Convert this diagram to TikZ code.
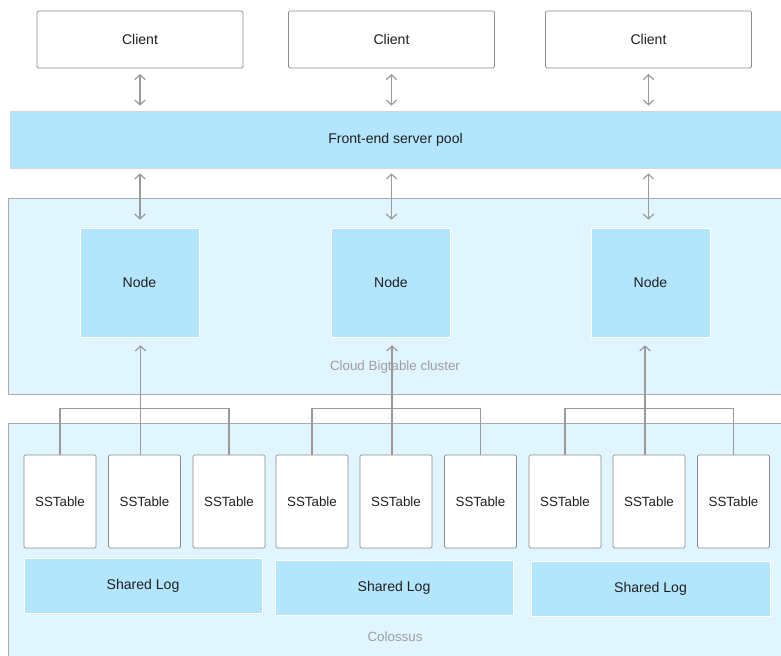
\documentclass[tikz,border=0pt]{standalone}
\usepackage{fontspec}
\setmainfont{Liberation Sans}
\usepackage{tikz}
\usetikzlibrary{arrows.meta, positioning, calc}
\usepackage{xcolor}
\definecolor{BtBlue}{HTML}{B3E5FC}
\definecolor{BtPale}{HTML}{E1F5FE}
\definecolor{BtLine}{HTML}{9A9A9A}
\definecolor{BtBorder}{HTML}{8C8C8C}
\definecolor{BtEdge}{HTML}{D6D6D6}
\definecolor{BtText}{HTML}{202020}
\definecolor{BtCaption}{HTML}{9E9E9E}
\tikzset{
    % Node styles
    clientbox/.style={
        rectangle,
        draw=BtBorder,
        fill=white,
        line width=0.6pt,
        rounded corners=1pt,
        minimum width=5.15cm,
        minimum height=1.425cm,
        text=BtText,
        font=\fontsize{10}{12}\selectfont
    },
    bandbox/.style={
        rectangle,
        draw=BtEdge,
        fill=BtBlue,
        line width=0.5pt,
        minimum width=19.275cm,
        minimum height=1.425cm,
        text=BtText,
        font=\fontsize{10}{12}\selectfont
    },
    areabox/.style={
        rectangle,
        draw=BtEdge!80!black,
        fill=BtPale,
        line width=0.5pt,
        minimum width=19.325cm
    },
    serverbox/.style={
        rectangle,
        draw=white,
        fill=BtBlue,
        line width=0.4pt,
        minimum width=2.975cm,
        minimum height=2.725cm,
        text=BtText,
        font=\fontsize{10}{12}\selectfont
    },
    sstable/.style={
        rectangle,
        draw=BtBorder,
        fill=white,
        line width=0.6pt,
        rounded corners=1pt,
        minimum width=1.8cm,
        minimum height=2.325cm,
        text=BtText,
        font=\fontsize{9.5}{11}\selectfont
    },
    logbox/.style={
        rectangle,
        draw=white,
        fill=BtBlue,
        line width=0.4pt,
        minimum width=5.95cm,
        minimum height=1.375cm,
        text=BtText,
        font=\fontsize{10}{12}\selectfont
    },
    caption/.style={
        text=BtCaption,
        font=\fontsize{9.5}{11}\selectfont
    },
    % Arrow styles
    biarrow/.style={
        {Straight Barb[length=0.12cm,width=0.26cm]}-{Straight Barb[length=0.12cm,width=0.26cm]},
        line width=0.85pt,
        BtLine
    },
    uparrow/.style={
        -{Straight Barb[length=0.12cm,width=0.26cm]},
        line width=0.85pt,
        BtLine
    },
    treeline/.style={
        line width=0.85pt,
        BtLine
    }
}
\begin{document}
\begin{tikzpicture}[x=0.025cm, y=-0.025cm]
    \useasboundingbox (0,0) rectangle (781,656);

    % Backgrounds
    \node[areabox, minimum height=4.9cm] (cluster) at (394.5,296) {};
    \node[areabox, minimum height=5.825cm] (colossus) at (394.5,539.5) {};
    \node[bandbox] (frontend) at (395.5,139.5) {Front-end server pool};

    % Clients
    \node[clientbox] (c1) at (140,39.5) {Client};
    \node[clientbox] (c2) at (391.5,39.5) {Client};
    \node[clientbox] (c3) at (648.5,39.5) {Client};

    % Cluster nodes
    \node[serverbox] (n1) at (139.5,282.5) {Node};
    \node[serverbox] (n2) at (391,282.5) {Node};
    \node[serverbox] (n3) at (650.5,282.5) {Node};
    \node[caption] (clustername) at (395,367) {Cloud Bigtable cluster};

    % SSTables
    \foreach \i/\x in {1/60,2/144.5,3/229,4/312,5/396,6/480.5,7/565,8/649,9/733.5}
        \node[sstable] (s\i) at (\x,501.5) {SSTable};

    % Shared logs
    \node[logbox] (log1) at (143,585.5) {Shared Log};
    \node[logbox] (log2) at (394,587.5) {Shared Log};
    \node[logbox, minimum width=5.975cm] (log3) at (650.5,588.5) {Shared Log};
    \node[caption] (colossusname) at (395,637) {Colossus};

    % Client <-> front end <-> nodes
    \foreach \i in {1,2,3} {
        \draw[biarrow, shorten <=0.14cm, shorten >=0.125cm] (c\i.south) -- (c\i.south |- frontend.north);
        \draw[biarrow, shorten <=0.125cm, shorten >=0.2cm] (c\i.south |- frontend.south) -- (c\i.south |- n\i.north);
    }

    % SSTables up to nodes
    \foreach \i/\a/\b/\c in {1/1/2/3,2/4/5/6,3/7/8/9} {
        \draw[treeline] (s\a.north) -- ++(0,-46) -| (s\c.north);
        \draw[uparrow, shorten >=0.2cm] ([xshift=-0.1cm]s\b.north) -- ([xshift=-0.1cm]s\b.north |- n\i.south);
    }
\end{tikzpicture}
\end{document}
